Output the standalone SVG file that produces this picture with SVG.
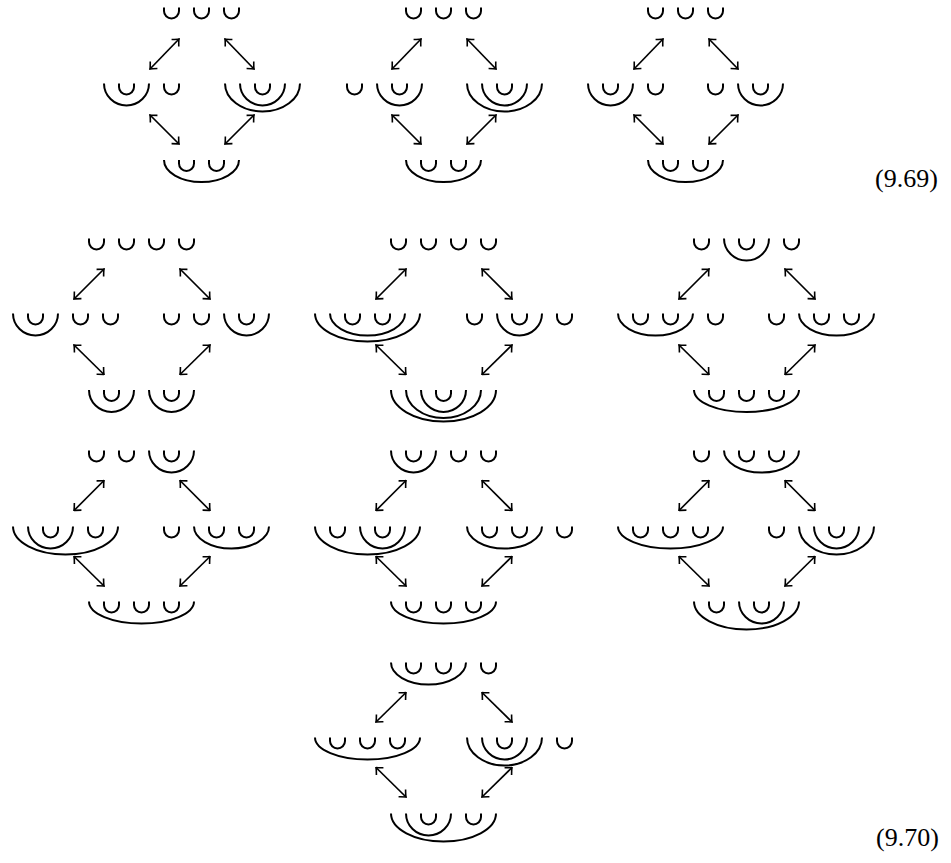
<svg xmlns="http://www.w3.org/2000/svg" width="951" height="863" viewBox="0 0 951 863">
<style>
.c{fill:none;stroke:#000;stroke-width:2}
.a{fill:none;stroke:#000;stroke-width:1.7;marker-start:url(#h);marker-end:url(#h)}
.t{font-family:"Liberation Serif","DejaVu Serif",serif;font-size:26px;fill:#000}
</style>
<defs>
<marker id="h" viewBox="-8 -7 9 14" refX="0" refY="0" markerWidth="9" markerHeight="14" markerUnits="userSpaceOnUse" orient="auto-start-reverse">
<path d="M-5.5,-5 Q-1.5,-1 0,0 Q-1.5,1 -5.5,5" fill="none" stroke="#000" stroke-width="1.6"/>
</marker>
</defs>
<rect width="951" height="863" fill="#fff"/>

<!-- Row 1, diamond 1 -->
<g id="r1d1-top"><path class="c" d="M164,7.5v3.5a7.5,7.5 0 0 0 15,0v-3.5M194,7.5v3.5a7.5,7.5 0 0 0 15,0v-3.5M224,7.5v3.5a7.5,7.5 0 0 0 15,0v-3.5"/></g>
<g id="r1d1-left"><path class="c" d="M104,83.5A22.5,22 0 0 0 149,83.5M119,83.5v3.5a7.5,7.5 0 0 0 15,0v-3.5M164,83.5v3.5a7.5,7.5 0 0 0 15,0v-3.5"/></g>
<g id="r1d1-right"><path class="c" d="M225,83.5A37.5,28 0 0 0 300,83.5M240,83.5A22.5,22 0 0 0 285,83.5M255,83.5v3.5a7.5,7.5 0 0 0 15,0v-3.5"/></g>
<g id="r1d1-bottom"><path class="c" d="M164,160A37.5,22 0 0 0 239,160M179,160v3.5a7.5,7.5 0 0 0 15,0v-3.5M209,160v3.5a7.5,7.5 0 0 0 15,0v-3.5"/></g>

<!-- Row 1, diamond 2 -->
<g id="r1d2-top"><path class="c" d="M406,7.5v3.5a7.5,7.5 0 0 0 15,0v-3.5M436,7.5v3.5a7.5,7.5 0 0 0 15,0v-3.5M466,7.5v3.5a7.5,7.5 0 0 0 15,0v-3.5"/></g>
<g id="r1d2-left"><path class="c" d="M347,83.5v3.5a7.5,7.5 0 0 0 15,0v-3.5M377,83.5A22.5,22 0 0 0 422,83.5M392,83.5v3.5a7.5,7.5 0 0 0 15,0v-3.5"/></g>
<g id="r1d2-right"><path class="c" d="M467,83.5A37.5,28 0 0 0 542,83.5M482,83.5A22.5,22 0 0 0 527,83.5M497,83.5v3.5a7.5,7.5 0 0 0 15,0v-3.5"/></g>
<g id="r1d2-bottom"><path class="c" d="M406,160A37.5,22 0 0 0 481,160M421,160v3.5a7.5,7.5 0 0 0 15,0v-3.5M451,160v3.5a7.5,7.5 0 0 0 15,0v-3.5"/></g>

<!-- Row 1, diamond 3 -->
<g id="r1d3-top"><path class="c" d="M648,7.5v3.5a7.5,7.5 0 0 0 15,0v-3.5M678,7.5v3.5a7.5,7.5 0 0 0 15,0v-3.5M708,7.5v3.5a7.5,7.5 0 0 0 15,0v-3.5"/></g>
<g id="r1d3-left"><path class="c" d="M588,83.5A22.5,22 0 0 0 633,83.5M603,83.5v3.5a7.5,7.5 0 0 0 15,0v-3.5M648,83.5v3.5a7.5,7.5 0 0 0 15,0v-3.5"/></g>
<g id="r1d3-right"><path class="c" d="M708,83.5v3.5a7.5,7.5 0 0 0 15,0v-3.5M738,83.5A22.5,22 0 0 0 783,83.5M753,83.5v3.5a7.5,7.5 0 0 0 15,0v-3.5"/></g>
<g id="r1d3-bottom"><path class="c" d="M648,160A37.5,22 0 0 0 723,160M663,160v3.5a7.5,7.5 0 0 0 15,0v-3.5M693,160v3.5a7.5,7.5 0 0 0 15,0v-3.5"/></g>

<!-- Row 2, diamond 1 -->
<g id="r2d1-top"><path class="c" d="M89,238.5v3.5a7.5,7.5 0 0 0 15,0v-3.5M119,238.5v3.5a7.5,7.5 0 0 0 15,0v-3.5M149,238.5v3.5a7.5,7.5 0 0 0 15,0v-3.5M179,238.5v3.5a7.5,7.5 0 0 0 15,0v-3.5"/></g>
<g id="r2d1-left"><path class="c" d="M13,313.5A22.5,22 0 0 0 58,313.5M28,313.5v3.5a7.5,7.5 0 0 0 15,0v-3.5M73,313.5v3.5a7.5,7.5 0 0 0 15,0v-3.5M103,313.5v3.5a7.5,7.5 0 0 0 15,0v-3.5"/></g>
<g id="r2d1-right"><path class="c" d="M164,313.5v3.5a7.5,7.5 0 0 0 15,0v-3.5M194,313.5v3.5a7.5,7.5 0 0 0 15,0v-3.5M224,313.5A22.5,22 0 0 0 269,313.5M239,313.5v3.5a7.5,7.5 0 0 0 15,0v-3.5"/></g>
<g id="r2d1-bottom"><path class="c" d="M89,390A22.5,22 0 0 0 134,390M104,390v3.5a7.5,7.5 0 0 0 15,0v-3.5M149,390A22.5,22 0 0 0 194,390M164,390v3.5a7.5,7.5 0 0 0 15,0v-3.5"/></g>

<!-- Row 2, diamond 2 -->
<g id="r2d2-top"><path class="c" d="M391,238.5v3.5a7.5,7.5 0 0 0 15,0v-3.5M421,238.5v3.5a7.5,7.5 0 0 0 15,0v-3.5M451,238.5v3.5a7.5,7.5 0 0 0 15,0v-3.5M481,238.5v3.5a7.5,7.5 0 0 0 15,0v-3.5"/></g>
<g id="r2d2-left"><path class="c" d="M315,313.5A52.5,28 0 0 0 420,313.5M330,313.5A37.5,22 0 0 0 405,313.5M345,313.5v3.5a7.5,7.5 0 0 0 15,0v-3.5M375,313.5v3.5a7.5,7.5 0 0 0 15,0v-3.5"/></g>
<g id="r2d2-right"><path class="c" d="M467,313.5v3.5a7.5,7.5 0 0 0 15,0v-3.5M497,313.5A22.5,22 0 0 0 542,313.5M512,313.5v3.5a7.5,7.5 0 0 0 15,0v-3.5M557,313.5v3.5a7.5,7.5 0 0 0 15,0v-3.5"/></g>
<g id="r2d2-bottom"><path class="c" d="M391,390A52.5,31.5 0 0 0 496,390M406,390A37.5,28 0 0 0 481,390M421,390A22.5,22 0 0 0 466,390M436,390v3.5a7.5,7.5 0 0 0 15,0v-3.5"/></g>

<!-- Row 2, diamond 3 -->
<g id="r2d3-top"><path class="c" d="M694,238.5v3.5a7.5,7.5 0 0 0 15,0v-3.5M724,238.5A22.5,22 0 0 0 769,238.5M739,238.5v3.5a7.5,7.5 0 0 0 15,0v-3.5M784,238.5v3.5a7.5,7.5 0 0 0 15,0v-3.5"/></g>
<g id="r2d3-left"><path class="c" d="M618,313.5A37.5,22 0 0 0 693,313.5M633,313.5v3.5a7.5,7.5 0 0 0 15,0v-3.5M663,313.5v3.5a7.5,7.5 0 0 0 15,0v-3.5M708,313.5v3.5a7.5,7.5 0 0 0 15,0v-3.5"/></g>
<g id="r2d3-right"><path class="c" d="M769,313.5v3.5a7.5,7.5 0 0 0 15,0v-3.5M799,313.5A37.5,22 0 0 0 874,313.5M814,313.5v3.5a7.5,7.5 0 0 0 15,0v-3.5M844,313.5v3.5a7.5,7.5 0 0 0 15,0v-3.5"/></g>
<g id="r2d3-bottom"><path class="c" d="M694,390A52.5,22 0 0 0 799,390M709,390v3.5a7.5,7.5 0 0 0 15,0v-3.5M739,390v3.5a7.5,7.5 0 0 0 15,0v-3.5M769,390v3.5a7.5,7.5 0 0 0 15,0v-3.5"/></g>

<!-- Row 3, diamond 1 -->
<g id="r3d1-top"><path class="c" d="M89,450.5v3.5a7.5,7.5 0 0 0 15,0v-3.5M119,450.5v3.5a7.5,7.5 0 0 0 15,0v-3.5M149,450.5A22.5,22 0 0 0 194,450.5M164,450.5v3.5a7.5,7.5 0 0 0 15,0v-3.5"/></g>
<g id="r3d1-left"><path class="c" d="M13,526.5A52.5,28 0 0 0 118,526.5M28,526.5A22.5,22 0 0 0 73,526.5M43,526.5v3.5a7.5,7.5 0 0 0 15,0v-3.5M88,526.5v3.5a7.5,7.5 0 0 0 15,0v-3.5"/></g>
<g id="r3d1-right"><path class="c" d="M164,526.5v3.5a7.5,7.5 0 0 0 15,0v-3.5M194,526.5A37.5,22 0 0 0 269,526.5M209,526.5v3.5a7.5,7.5 0 0 0 15,0v-3.5M239,526.5v3.5a7.5,7.5 0 0 0 15,0v-3.5"/></g>
<g id="r3d1-bottom"><path class="c" d="M89,601.5A52.5,22 0 0 0 194,601.5M104,601.5v3.5a7.5,7.5 0 0 0 15,0v-3.5M134,601.5v3.5a7.5,7.5 0 0 0 15,0v-3.5M164,601.5v3.5a7.5,7.5 0 0 0 15,0v-3.5"/></g>

<!-- Row 3, diamond 2 -->
<g id="r3d2-top"><path class="c" d="M391,450.5A22.5,22 0 0 0 436,450.5M406,450.5v3.5a7.5,7.5 0 0 0 15,0v-3.5M451,450.5v3.5a7.5,7.5 0 0 0 15,0v-3.5M481,450.5v3.5a7.5,7.5 0 0 0 15,0v-3.5"/></g>
<g id="r3d2-left"><path class="c" d="M315,526.5A52.5,28 0 0 0 420,526.5M330,526.5v3.5a7.5,7.5 0 0 0 15,0v-3.5M360,526.5A22.5,22 0 0 0 405,526.5M375,526.5v3.5a7.5,7.5 0 0 0 15,0v-3.5"/></g>
<g id="r3d2-right"><path class="c" d="M467,526.5A37.5,22 0 0 0 542,526.5M482,526.5v3.5a7.5,7.5 0 0 0 15,0v-3.5M512,526.5v3.5a7.5,7.5 0 0 0 15,0v-3.5M557,526.5v3.5a7.5,7.5 0 0 0 15,0v-3.5"/></g>
<g id="r3d2-bottom"><path class="c" d="M391,601.5A52.5,22 0 0 0 496,601.5M406,601.5v3.5a7.5,7.5 0 0 0 15,0v-3.5M436,601.5v3.5a7.5,7.5 0 0 0 15,0v-3.5M466,601.5v3.5a7.5,7.5 0 0 0 15,0v-3.5"/></g>

<!-- Row 3, diamond 3 -->
<g id="r3d3-top"><path class="c" d="M694,450.5v3.5a7.5,7.5 0 0 0 15,0v-3.5M724,450.5A37.5,22 0 0 0 799,450.5M739,450.5v3.5a7.5,7.5 0 0 0 15,0v-3.5M769,450.5v3.5a7.5,7.5 0 0 0 15,0v-3.5"/></g>
<g id="r3d3-left"><path class="c" d="M618,526.5A52.5,22 0 0 0 723,526.5M633,526.5v3.5a7.5,7.5 0 0 0 15,0v-3.5M663,526.5v3.5a7.5,7.5 0 0 0 15,0v-3.5M693,526.5v3.5a7.5,7.5 0 0 0 15,0v-3.5"/></g>
<g id="r3d3-right"><path class="c" d="M769,526.5v3.5a7.5,7.5 0 0 0 15,0v-3.5M799,526.5A37.5,28 0 0 0 874,526.5M814,526.5A22.5,22 0 0 0 859,526.5M829,526.5v3.5a7.5,7.5 0 0 0 15,0v-3.5"/></g>
<g id="r3d3-bottom"><path class="c" d="M694,601.5A52.5,28 0 0 0 799,601.5M709,601.5v3.5a7.5,7.5 0 0 0 15,0v-3.5M739,601.5A22.5,22 0 0 0 784,601.5M754,601.5v3.5a7.5,7.5 0 0 0 15,0v-3.5"/></g>

<!-- Row 4 -->
<g id="r4-top"><path class="c" d="M391,662.5A37.5,22 0 0 0 466,662.5M406,662.5v3.5a7.5,7.5 0 0 0 15,0v-3.5M436,662.5v3.5a7.5,7.5 0 0 0 15,0v-3.5M481,662.5v3.5a7.5,7.5 0 0 0 15,0v-3.5"/></g>
<g id="r4-left"><path class="c" d="M315,737.5A52.5,22 0 0 0 420,737.5M330,737.5v3.5a7.5,7.5 0 0 0 15,0v-3.5M360,737.5v3.5a7.5,7.5 0 0 0 15,0v-3.5M390,737.5v3.5a7.5,7.5 0 0 0 15,0v-3.5"/></g>
<g id="r4-right"><path class="c" d="M467,737.5A37.5,28 0 0 0 542,737.5M482,737.5A22.5,22 0 0 0 527,737.5M497,737.5v3.5a7.5,7.5 0 0 0 15,0v-3.5M557,737.5v3.5a7.5,7.5 0 0 0 15,0v-3.5"/></g>
<g id="r4-bottom"><path class="c" d="M391,813.5A52.5,28 0 0 0 496,813.5M406,813.5A22.5,22 0 0 0 451,813.5M421,813.5v3.5a7.5,7.5 0 0 0 15,0v-3.5M466,813.5v3.5a7.5,7.5 0 0 0 15,0v-3.5"/></g>

<!-- Connectors -->
<g id="connectors">
<path class="a" d="M150,69L179,39"/><path class="a" d="M225,39L254,69"/><path class="a" d="M150,115L179,144"/><path class="a" d="M225,144L254,115"/>
<path class="a" d="M392,69L421,39"/><path class="a" d="M467,39L496,69"/><path class="a" d="M392,115L421,144"/><path class="a" d="M467,144L496,115"/>
<path class="a" d="M634,69L663,39"/><path class="a" d="M709,39L738,69"/><path class="a" d="M634,115L663,144"/><path class="a" d="M709,144L738,115"/>

<path class="a" d="M74,299L104,269"/><path class="a" d="M180,269L210,299"/><path class="a" d="M74,345L104,374.5"/><path class="a" d="M180,374.5L210,345"/>
<path class="a" d="M376,299L406,269"/><path class="a" d="M482,269L512,299"/><path class="a" d="M376,345L406,374.5"/><path class="a" d="M482,374.5L512,345"/>
<path class="a" d="M679,299L709,269"/><path class="a" d="M785,269L815,299"/><path class="a" d="M679,345L709,374.5"/><path class="a" d="M785,374.5L815,345"/>

<path class="a" d="M74,510.5L104,480.5"/><path class="a" d="M180,480.5L210,510.5"/><path class="a" d="M74,556.5L104,586"/><path class="a" d="M180,586L210,556.5"/>
<path class="a" d="M376,510.5L406,480.5"/><path class="a" d="M482,480.5L512,510.5"/><path class="a" d="M376,556.5L406,586"/><path class="a" d="M482,586L512,556.5"/>
<path class="a" d="M679,510.5L709,480.5"/><path class="a" d="M785,480.5L815,510.5"/><path class="a" d="M679,556.5L709,586"/><path class="a" d="M785,586L815,556.5"/>

<path class="a" d="M376,722L406,692.5"/><path class="a" d="M482,692.5L512,722"/><path class="a" d="M376,767.5L406,797"/><path class="a" d="M482,797L512,767.5"/>
</g>

<text class="t" x="875" y="187">(9.69)</text>
<text class="t" x="876" y="846">(9.70)</text>
</svg>
